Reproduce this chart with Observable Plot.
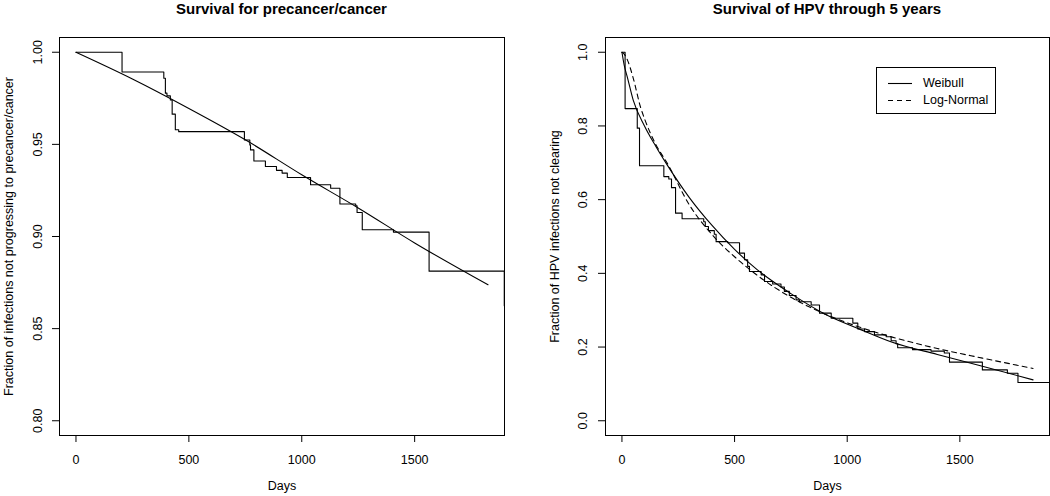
<!DOCTYPE html>
<html><head><meta charset="utf-8">
<script src="https://cdn.jsdelivr.net/npm/d3@7"></script>
<script src="https://cdn.jsdelivr.net/npm/@observablehq/plot@0.6"></script>
<style>
body{margin:0;background:#fff;font-family:"Liberation Sans",Arial,Helvetica,sans-serif;color:#000;}
#wrap{display:flex;width:1050px;height:496px;overflow:hidden;}
.panel{position:relative;width:525px;flex:none;}
.title{height:18px;line-height:18px;font-weight:bold;font-size:15px;text-align:center;white-space:nowrap;}
.legend{position:absolute;border:1px solid #000;background:#fff;font-size:12.5px;box-sizing:border-box;}
.legend .row{position:absolute;left:0;right:0;height:16px;}
.legend svg{position:absolute;left:11px;top:0;}
.legend span{position:absolute;left:46px;top:0;line-height:16px;}
</style></head><body>
<div id="wrap"><div class="panel" id="p1"></div><div class="panel" id="p2"></div></div>
<script>
// ---- data ----
const xTicks = [0, 500, 1000, 1500];
const cancerYTicks = [0.80, 0.85, 0.90, 0.95, 1.00];
const hpvYTicks = [0.0, 0.2, 0.4, 0.6, 0.8, 1.0];

const cancerKmDays = [0, 204, 389, 396, 403, 418, 426, 440, 455, 746, 770, 773, 788, 839, 888, 913, 936, 1039, 1128, 1169, 1239, 1245, 1268, 1406, 1564, 1897];
const cancerKmSurv = [1.0, 0.9893, 0.9859, 0.9778, 0.9763, 0.9741, 0.9664, 0.9579, 0.9569, 0.9524, 0.9497, 0.947, 0.941, 0.938, 0.9359, 0.9344, 0.932, 0.9281, 0.9262, 0.9176, 0.9167, 0.913, 0.9037, 0.9024, 0.8812, 0.8624];

const cancerFitDays = [0, 250, 500, 750, 1000, 1250, 1500, 1825];
const cancerFitSurv = [1.0, 0.9855, 0.9695, 0.9525, 0.9335, 0.9155, 0.8965, 0.8738];

const hpvKmDays = [0, 14, 68, 78, 186, 208, 220, 238, 267, 363, 370, 384, 410, 418, 470, 522, 544, 558, 566, 618, 633, 669, 706, 721, 743, 773, 788, 840, 877, 929, 1025, 1047, 1077, 1121, 1173, 1195, 1217, 1224, 1290, 1372, 1431, 1454, 1600, 1711, 1758, 1898];
const hpvKmSurv = [1.0, 0.847, 0.794, 0.692, 0.6625, 0.656, 0.6325, 0.5633, 0.548, 0.540, 0.527, 0.516, 0.506, 0.486, 0.483, 0.455, 0.437, 0.419, 0.405, 0.396, 0.378, 0.371, 0.363, 0.351, 0.340, 0.328, 0.323, 0.314, 0.292, 0.278, 0.265, 0.249, 0.242, 0.233, 0.228, 0.217, 0.209, 0.198, 0.193, 0.189, 0.184, 0.159, 0.138, 0.129, 0.104, 0.104];

const hpvWeibullDays = [0, 10, 25, 50, 100, 150, 200, 300, 400, 500, 600, 750, 900, 1050, 1200, 1400, 1600, 1825];
const hpvWeibullSurv = [1.0, 0.965, 0.93, 0.87, 0.80, 0.745, 0.695, 0.605, 0.53, 0.465, 0.41, 0.345, 0.29, 0.25, 0.213, 0.18, 0.148, 0.111];

const hpvLognormDays = [0, 10, 25, 50, 83, 100, 150, 200, 300, 400, 500, 600, 750, 900, 1050, 1200, 1400, 1600, 1825];
const hpvLognormSurv = [1.0, 0.995, 0.978, 0.93, 0.85, 0.82, 0.75, 0.70, 0.585, 0.505, 0.445, 0.395, 0.335, 0.29, 0.255, 0.227, 0.196, 0.17, 0.142];

const legendLabels = ["Weibull", "Log-Normal"];
const legendDash = [null, "5,4"];

const xDomain = [-73, 1898];

function series(days, surv) { return days.map((d, i) => ({d, s: surv[i]})); }

function makePanel(el, title, ylabel, yTicks, yFmt, yDomain, lines, ml, mr, labelPad) {
  const t = document.createElement("div");
  t.className = "title";
  t.style.paddingLeft = ml + "px";
  t.style.paddingRight = mr + "px";
  t.textContent = title;
  el.appendChild(t);
  const chart = Plot.plot({
    width: 525, height: 478,
    marginLeft: ml, marginRight: mr, marginTop: 19, marginBottom: 61,
    style: {fontFamily: '"Liberation Sans", Arial, Helvetica, sans-serif', fontSize: "12.5px", color: "#000", background: "#fff", overflow: "visible"},
    x: {domain: xDomain},
    y: {domain: yDomain},
    marks: [
      ...lines.map(L => Plot.line(L.data, {x: "d", y: "s", curve: L.curve || "linear", stroke: "#000", strokeWidth: 1.1, strokeDasharray: L.dash || null})),
      Plot.frame({stroke: "#000", strokeWidth: 1}),
      Plot.axisX({ticks: xTicks, tickSize: 7, tickPadding: 13, tickFormat: d3.format("d"), label: null, stroke: "#000", fill: "#000"}),
      Plot.axisY({ticks: yTicks, tickSize: 7, tickFormat: () => "", label: null, stroke: "#000"}),
      Plot.axisY({ticks: yTicks, tickSize: 0, tickPadding: labelPad, tickFormat: d3.format(yFmt), rotate: -90, textAnchor: "middle", label: null, fill: "#000"}),
      Plot.text(["Days"], {text: d => d, frameAnchor: "bottom", dy: 54, fill: "#000"}),
      Plot.text([ylabel], {text: d => d, frameAnchor: "left", dx: -51, rotate: -90, textAnchor: "middle", fill: "#000"})
    ]
  });
  el.appendChild(chart);
}

makePanel(document.getElementById("p1"), "Survival for precancer/cancer",
  "Fraction of infections not progressing to precancer/cancer",
  cancerYTicks, ".2f", [0.792, 1.008],
  [{data: series(cancerKmDays, cancerKmSurv), curve: "step-after"},
   {data: series(cancerFitDays, cancerFitSurv), curve: "monotone-x"}], 59, 21, 22);

makePanel(document.getElementById("p2"), "Survival of HPV through 5 years",
  "Fraction of HPV infections not clearing",
  hpvYTicks, ".1f", [-0.04, 1.04],
  [{data: series(hpvKmDays, hpvKmSurv), curve: "step-after"},
   {data: series(hpvWeibullDays, hpvWeibullSurv), curve: "monotone-x"},
   {data: series(hpvLognormDays, hpvLognormSurv), curve: "monotone-x", dash: legendDash[1]}], 80, 1, 23);

// legend (R-style boxed legend inside the right panel)
const lg = document.createElement("div");
lg.className = "legend";
Object.assign(lg.style, {left: "351px", top: "67px", width: "120px", height: "47px"});
legendLabels.forEach((lab, i) => {
  const row = document.createElement("div");
  row.className = "row";
  row.style.top = (7 + i * 16.5) + "px";
  row.innerHTML = `<svg width="25" height="16"><line x1="0" x2="24" y1="8.5" y2="8.5" stroke="#000" stroke-width="1.1" ${legendDash[i] ? `stroke-dasharray="${legendDash[i]}"` : ""}/></svg><span>${lab}</span>`;
  lg.appendChild(row);
});
document.getElementById("p2").appendChild(lg);
</script>
</body></html>
